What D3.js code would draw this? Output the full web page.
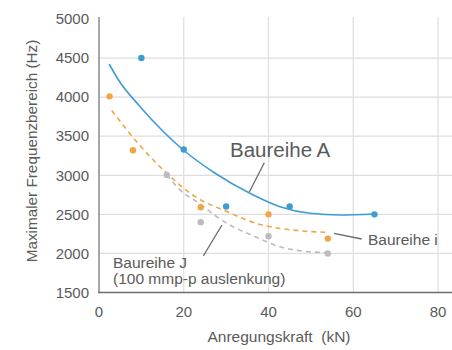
<!DOCTYPE html>
<html>
<head>
<meta charset="utf-8">
<script src="https://cdn.jsdelivr.net/npm/d3@7.9.0/dist/d3.min.js"></script>
<style>
  body { margin: 0; background: #fff; }
  svg { font-family: "Liberation Sans", Arial, sans-serif; }
</style>
</head>
<body>
<svg id="chart" width="452" height="350"></svg>
<script>
// measured points
const pointsA = [[10, 4500], [20, 3330], [30, 2600], [45, 2600], [65, 2500]];
const pointsI = [[2.5, 4010], [8, 3320], [24, 2590], [40, 2500], [54, 2190]];
const pointsJ = [[16, 3005], [24, 2400], [40, 2220], [54, 2000]];

// trend lines
const trendA = [[2.4, 4424], [4.6, 4220], [9.5, 3890], [14.8, 3580], [19.7, 3333], [27.4, 3026],
                [35.6, 2770], [42.7, 2598], [49.8, 2514], [56.9, 2492], [65, 2505]];
const trendI = [[3, 3830], [9.2, 3410], [15.6, 3046], [22.7, 2726], [30, 2540],
                [38, 2370], [43, 2318], [47.4, 2290], [54, 2270]];
const trendJ = [[16, 3005], [20, 2770], [22.3, 2690], [30, 2390], [37, 2210],
                [42.7, 2085], [48, 2030], [54, 2010]];

const xTicks = [0, 20, 40, 60, 80];
const yTicks = [1500, 2000, 2500, 3000, 3500, 4000, 4500, 5000];

const colA = "#3d9dd3", colI = "#f0a646", colJ = "#bcbcbc";
const textCol = "#5a5a5a";

const svg = d3.select("#chart");
const x = d3.scaleLinear().domain([0, 83.3]).range([99, 452]);
const y = d3.scaleLinear().domain([1500, 5000]).range([292.5, 19]);

// grid
svg.append("g").selectAll("line").data(yTicks.filter(d => d > 1500 && d < 5000)).join("line")
    .attr("x1", x(0)).attr("x2", 452)
    .attr("y1", d => y(d)).attr("y2", d => y(d))
    .attr("stroke", "#dedede").attr("stroke-width", 1.2);
svg.append("g").selectAll("line").data(xTicks.filter(d => d > 0)).join("line")
    .attr("x1", d => x(d)).attr("x2", d => x(d))
    .attr("y1", y(5000) - 2).attr("y2", y(1500))
    .attr("stroke", "#dedede").attr("stroke-width", 1.2);

// axes lines
svg.append("line").attr("x1", x(0)).attr("x2", x(0)).attr("y1", y(5000) - 2).attr("y2", y(1500))
    .attr("stroke", "#8a8a8a").attr("stroke-width", 1.5);
svg.append("line").attr("x1", x(0) - 1).attr("x2", 452).attr("y1", y(1500)).attr("y2", y(1500))
    .attr("stroke", "#6e6e6e").attr("stroke-width", 1.5);

// tick labels
svg.append("g").selectAll("text").data(yTicks).join("text")
    .attr("x", 89).attr("y", d => y(d)).attr("dy", "0.35em")
    .attr("text-anchor", "end").attr("font-size", 15).attr("fill", textCol)
    .text(d => d);
svg.append("g").selectAll("text").data(xTicks).join("text")
    .attr("x", d => x(d)).attr("y", 317)
    .attr("text-anchor", "middle").attr("font-size", 15).attr("fill", textCol)
    .text(d => d);

// axis titles
svg.append("text").attr("x", 279).attr("y", 342).attr("text-anchor", "middle")
    .attr("font-size", 15.5).attr("fill", textCol).attr("xml:space", "preserve")
    .text("Anregungskraft  (kN)");
svg.append("text").attr("transform", "translate(37,151) rotate(-90)")
    .attr("text-anchor", "middle").attr("font-size", 15.3).attr("fill", textCol)
    .text("Maximaler Frequenzbereich (Hz)");

// trend lines
const line = d3.line().x(d => x(d[0])).y(d => y(d[1])).curve(d3.curveMonotoneX);
svg.append("path").attr("d", line(trendJ)).attr("fill", "none")
    .attr("stroke", colJ).attr("stroke-width", 1.6).attr("stroke-dasharray", "5,4");
svg.append("path").attr("d", line(trendI)).attr("fill", "none")
    .attr("stroke", colI).attr("stroke-width", 1.6).attr("stroke-dasharray", "5,4");
svg.append("path").attr("d", line(trendA)).attr("fill", "none")
    .attr("stroke", colA).attr("stroke-width", 1.6);

// points
function dots(data, col) {
    svg.append("g").selectAll("circle").data(data).join("circle")
        .attr("cx", d => x(d[0])).attr("cy", d => y(d[1])).attr("r", 3.2)
        .attr("fill", col);
}
dots(pointsJ, colJ);
dots(pointsI, colI);
dots(pointsA, colA);

// annotations
const leaders = [
    [[264.3, 162.7], [249.3, 192]],
    [[334, 233.3], [361.7, 239]],
    [[222, 225], [203.3, 256]]
];
leaders.forEach(l => {
    svg.append("line").attr("x1", l[0][0]).attr("y1", l[0][1])
        .attr("x2", l[1][0]).attr("y2", l[1][1])
        .attr("stroke", "#6a6a6a").attr("stroke-width", 1.3);
});
svg.append("text").attr("x", 230).attr("y", 157).attr("font-size", 20.5)
    .attr("fill", textCol).text("Baureihe A");
svg.append("text").attr("x", 368).attr("y", 245).attr("font-size", 15.5)
    .attr("fill", textCol).text("Baureihe i");
svg.append("text").attr("x", 113).attr("y", 268).attr("font-size", 15.5)
    .attr("fill", textCol).text("Baureihe J");
svg.append("text").attr("x", 113).attr("y", 284).attr("font-size", 15.5)
    .attr("fill", textCol).text("(100 mmp-p auslenkung)");
</script>
</body>
</html>
